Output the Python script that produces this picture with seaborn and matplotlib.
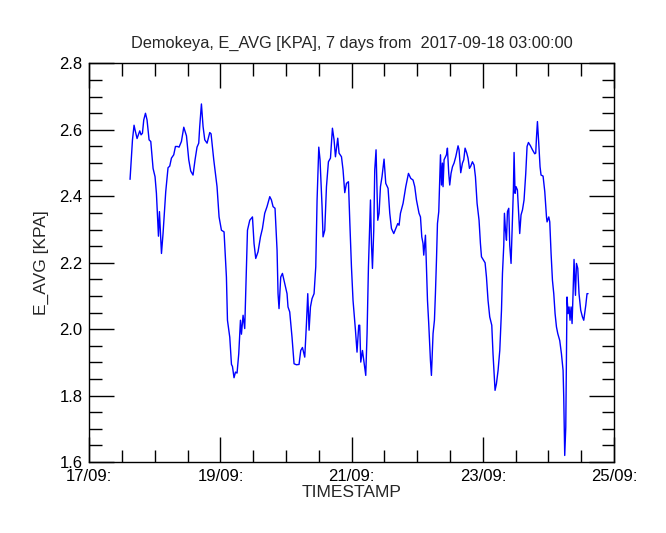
import numpy as np
import pandas as pd
import matplotlib
matplotlib.use("Agg")
import matplotlib.pyplot as plt
import matplotlib.dates as mdates
import seaborn as sns

# days elapsed since 2017-09-17 00:00
days = [0.622, 0.659, 0.683, 0.698, 0.729, 0.770, 0.790, 0.811, 0.831, 0.857, 0.881, 0.912, 0.938, 0.973,
        1.003, 1.024, 1.055, 1.070, 1.085, 1.101, 1.125, 1.166, 1.201, 1.227, 1.253, 1.288, 1.314, 1.345,
        1.369, 1.405, 1.441, 1.482, 1.517, 1.547, 1.582, 1.613, 1.643, 1.669, 1.684, 1.710, 1.735, 1.761,
        1.796, 1.837, 1.857, 1.898, 1.948, 1.979, 2.015, 2.055, 2.091, 2.107, 2.142, 2.168, 2.183, 2.207,
        2.229, 2.253, 2.279, 2.305, 2.320, 2.345, 2.370, 2.396, 2.412, 2.447, 2.488, 2.512, 2.538, 2.573,
        2.610, 2.640, 2.675, 2.710, 2.752, 2.777, 2.802, 2.832, 2.863, 2.878, 2.893, 2.919, 2.945, 2.980,
        3.015, 3.030, 3.056, 3.091, 3.122, 3.159, 3.198, 3.224, 3.250, 3.285, 3.311, 3.331, 3.351, 3.372,
        3.396, 3.427, 3.453, 3.473, 3.499, 3.518, 3.549, 3.564, 3.590, 3.616, 3.646, 3.677, 3.707, 3.732,
        3.753, 3.788, 3.808, 3.845, 3.869, 3.895, 3.921, 3.951, 3.971, 3.997, 4.021, 4.058, 4.082, 4.108,
        4.123, 4.139, 4.165, 4.189, 4.215, 4.235, 4.256, 4.287, 4.302, 4.317, 4.337, 4.352, 4.372, 4.398,
        4.418, 4.439, 4.463, 4.494, 4.520, 4.555, 4.581, 4.607, 4.642, 4.672, 4.703, 4.723, 4.744, 4.784,
        4.825, 4.866, 4.901, 4.936, 4.962, 4.988, 5.027, 5.049, 5.069, 5.088, 5.099, 5.125, 5.140, 5.156,
        5.175, 5.201, 5.216, 5.241, 5.262, 5.277, 5.293, 5.308, 5.328, 5.343, 5.354, 5.369, 5.384, 5.393,
        5.409, 5.430, 5.445, 5.460, 5.480, 5.495, 5.515, 5.537, 5.561, 5.587, 5.622, 5.637, 5.663, 5.689,
        5.709, 5.729, 5.755, 5.774, 5.796, 5.816, 5.841, 5.866, 5.887, 5.912, 5.942, 5.963, 5.979, 6.003,
        6.034, 6.055, 6.079, 6.105, 6.136, 6.155, 6.186, 6.207, 6.232, 6.258, 6.284, 6.299, 6.319, 6.329,
        6.345, 6.360, 6.375, 6.395, 6.410, 6.430, 6.445, 6.466, 6.476, 6.491, 6.506, 6.527, 6.543, 6.562,
        6.582, 6.604, 6.628, 6.654, 6.674, 6.695, 6.726, 6.756, 6.791, 6.806, 6.817, 6.832, 6.852, 6.872,
        6.887, 6.918, 6.944, 6.970, 6.979, 7.005, 7.020, 7.040, 7.061, 7.081, 7.101, 7.122, 7.142, 7.172,
        7.198, 7.223, 7.233, 7.248, 7.264, 7.274, 7.283, 7.299, 7.314, 7.329, 7.345, 7.360, 7.375, 7.390,
        7.412, 7.427, 7.447, 7.466, 7.492, 7.518, 7.538, 7.569, 7.588, 7.604]

e_avg = [2.451, 2.570, 2.614, 2.600, 2.574, 2.597, 2.585, 2.590, 2.630, 2.650, 2.630, 2.570, 2.565, 2.484,
         2.459, 2.409, 2.280, 2.354, 2.290, 2.228, 2.288, 2.414, 2.486, 2.491, 2.515, 2.525, 2.550, 2.550,
         2.548, 2.565, 2.608, 2.582, 2.510, 2.476, 2.464, 2.510, 2.548, 2.560, 2.610, 2.678, 2.610, 2.570,
         2.560, 2.592, 2.588, 2.510, 2.429, 2.338, 2.298, 2.293, 2.157, 2.027, 1.976, 1.894, 1.888, 1.854,
         1.871, 1.868, 1.926, 2.027, 1.985, 2.042, 2.002, 2.188, 2.298, 2.328, 2.338, 2.258, 2.213, 2.233,
         2.278, 2.303, 2.349, 2.369, 2.399, 2.389, 2.369, 2.364, 2.238, 2.107, 2.062, 2.157, 2.168, 2.138,
         2.107, 2.067, 2.052, 1.976, 1.896, 1.893, 1.894, 1.936, 1.945, 1.916, 2.017, 2.107, 1.997, 2.067,
         2.092, 2.107, 2.188, 2.389, 2.548, 2.510, 2.369, 2.278, 2.298, 2.429, 2.504, 2.515, 2.605, 2.570,
         2.519, 2.575, 2.530, 2.519, 2.479, 2.411, 2.439, 2.444, 2.328, 2.188, 2.087, 1.997, 1.931, 2.012,
         2.012, 1.901, 1.936, 1.901, 1.861, 1.987, 2.188, 2.389, 2.258, 2.183, 2.298, 2.479, 2.540, 2.328,
         2.349, 2.429, 2.459, 2.512, 2.439, 2.424, 2.349, 2.303, 2.288, 2.303, 2.318, 2.313, 2.349, 2.379,
         2.429, 2.469, 2.454, 2.449, 2.429, 2.389, 2.349, 2.338, 2.278, 2.258, 2.223, 2.283, 2.188, 2.087,
         2.017, 1.906, 1.861, 1.987, 2.027, 2.107, 2.208, 2.318, 2.354, 2.449, 2.525, 2.434, 2.500, 2.429,
         2.510, 2.519, 2.525, 2.545, 2.469, 2.434, 2.469, 2.489, 2.500, 2.519, 2.552, 2.540, 2.471, 2.500,
         2.510, 2.545, 2.530, 2.515, 2.484, 2.491, 2.504, 2.494, 2.459, 2.379, 2.328, 2.258, 2.218, 2.210,
         2.200, 2.157, 2.087, 2.037, 2.012, 1.926, 1.816, 1.836, 1.876, 1.936, 2.057, 2.168, 2.253, 2.349,
         2.298, 2.268, 2.354, 2.364, 2.253, 2.198, 2.288, 2.424, 2.532, 2.409, 2.429, 2.419, 2.359, 2.288,
         2.344, 2.359, 2.389, 2.469, 2.550, 2.562, 2.552, 2.540, 2.528, 2.530, 2.575, 2.625, 2.560, 2.489,
         2.464, 2.461, 2.414, 2.338, 2.323, 2.338, 2.323, 2.228, 2.147, 2.107, 2.047, 2.007, 1.987, 1.966,
         1.926, 1.876, 1.796, 1.620, 1.705, 1.906, 2.097, 2.047, 2.067, 2.027, 2.067, 2.017, 2.107, 2.210,
         2.102, 2.198, 2.183, 2.107, 2.057, 2.037, 2.027, 2.072, 2.107, 2.107]

title = "Demokeya, E_AVG [KPA], 7 days from  2017-09-18 03:00:00"
xlabel = "TIMESTAMP"
ylabel = "E_AVG [KPA]"

sns.set_theme(style="ticks")
plt.rcParams['font.family'] = ['Liberation Sans', 'DejaVu Sans']

base = pd.Timestamp("2017-09-17 00:00:00")
df = pd.DataFrame({"t": base + pd.to_timedelta(days, unit="D"), "v": e_avg})

fig = plt.figure(figsize=(6.66, 5.33), dpi=100)
ax = fig.add_axes([0.134, 0.133, 0.788, 0.748])
sns.lineplot(data=df, x="t", y="v", ax=ax, color="#0000ff", linewidth=1.0, sort=False)

ax.set_xlim(base, base + pd.Timedelta(days=8))
ax.set_ylim(1.6, 2.8)
ax.xaxis.set_major_locator(mdates.DayLocator(bymonthday=[17, 19, 21, 23, 25]))
ax.xaxis.set_minor_locator(mdates.HourLocator(byhour=[0, 12]))
ax.xaxis.set_major_formatter(mdates.DateFormatter("%d/%m:"))
ax.set_yticks(np.arange(1.6, 2.81, 0.2))
ax.set_yticks(np.arange(1.6, 2.81, 0.05), minor=True)
ax.yaxis.set_major_formatter(matplotlib.ticker.FormatStrFormatter("%.1f"))

for sp in ax.spines.values():
    sp.set_visible(True)
    sp.set_color("black")
    sp.set_linewidth(1.0)
ax.tick_params(which="both", direction="in", top=True, right=True, colors="black",
               labelsize=12, width=1.0)
ax.tick_params(which="major", length=18, pad=5)
ax.tick_params(which="minor", length=9)
ax.tick_params(axis="x", which="major", pad=5)

ax.set_title(title, fontsize=11.8, pad=11)
ax.set_xlabel(xlabel, fontsize=12.5, labelpad=1)
ax.set_ylabel(ylabel, fontsize=12.5, labelpad=7)

fig.savefig("out.png", dpi=100, facecolor="white")
